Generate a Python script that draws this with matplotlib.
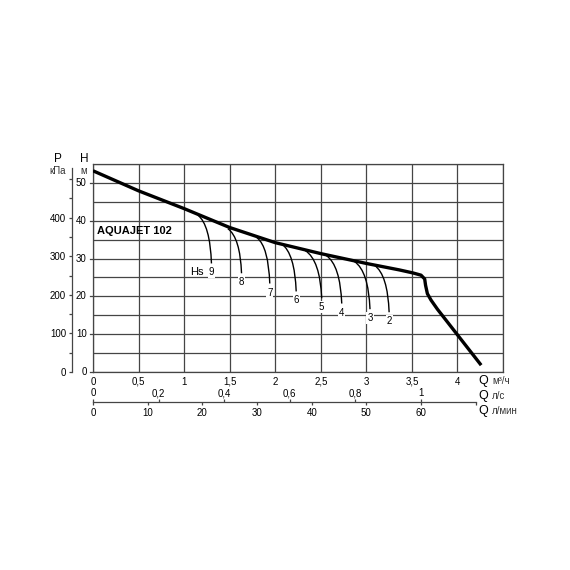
import matplotlib.pyplot as plt
from matplotlib.path import Path
from matplotlib.patches import PathPatch

plt.rcParams['font.family'] = ['Liberation Sans', 'DejaVu Sans']

# main pump curve, Q in m3/h, H in m
q_main = [0, 0.5, 1.0, 1.5, 2.0, 2.5, 3.0, 3.36, 3.51, 3.60, 3.64, 3.65, 3.67, 3.71, 3.78, 4.26]
h_main = [53.2, 47.9, 43.2, 38.2, 34.2, 31.3, 28.7, 27.0, 26.2, 25.6, 24.6, 22.9, 20.7, 19.0, 16.6, 1.8]

# suction lift (Hs) branches
hs_labels = ["9", "8", "7", "6", "5", "4", "3", "2"]
hs_q0 = [1.15, 1.48, 1.80, 2.07, 2.33, 2.56, 2.87, 3.09]
hs_h0 = [41.5, 37.9, 35.5, 33.9, 32.1, 30.8, 29.2, 28.2]
hs_q1 = [1.30, 1.63, 1.94, 2.23, 2.51, 2.73, 3.04, 3.25]
hs_h1 = [28.7, 26.1, 23.4, 21.3, 19.5, 18.1, 16.6, 15.8]

q_ticks = [0, 0.5, 1, 1.5, 2, 2.5, 3, 3.5, 4]
q_ticklabels = ["0", "0,5", "1", "1,5", "2", "2,5", "3", "3,5", "4"]
h_ticks = [0, 10, 20, 30, 40, 50]
p_ticks = [0, 50, 100, 150, 200, 250, 300, 350, 400, 450, 500]
p_ticklabels = ["0", "", "100", "", "200", "", "300", "", "400", "", ""]
ls_ticks = [0, 0.2, 0.4, 0.6, 0.8, 1]
ls_ticklabels = ["0", "0,2", "0,4", "0,6", "0,8", "1"]
lmin_ticks = [0, 10, 20, 30, 40, 50, 60, 70]
lmin_ticklabels = ["0", "10", "20", "30", "40", "50", "60", ""]

grid_c = '#454545'
fs = 7

fig = plt.figure(figsize=(5.7, 5.7), dpi=100)
ax = fig.add_axes([0.1632, 0.3474, 0.7193, 0.3649])
ax.set_xlim(0, 4.5)
ax.set_ylim(0, 55)
ax.set_xticks([0.5 * i for i in range(10)])
ax.set_yticks([5 * i for i in range(12)])
ax.grid(True, color=grid_c, lw=0.9)
ax.tick_params(length=0, labelleft=False, labelbottom=False)
for s in ax.spines.values():
    s.set_color(grid_c)
    s.set_linewidth(0.9)

# labels for H and Q (m3/h)
for h in h_ticks:
    ax.annotate(str(h), (0, h), xytext=(-4.5, 0), textcoords='offset points',
                ha='right', va='center', fontsize=fs)
    ax.plot([-0.035, 0], [h, h], color=grid_c, lw=0.9, clip_on=False)
for q, lab in zip(q_ticks, q_ticklabels):
    ax.annotate(lab, (q, 0), xytext=(0, -7), textcoords='offset points',
                ha='center', va='center', fontsize=fs)

ax.plot(q_main, h_main, color='black', lw=2.4, solid_capstyle='butt', zorder=5)

for lab, q0, h0, q1, h1 in zip(hs_labels, hs_q0, hs_h0, hs_q1, hs_h1):
    ctrl = (q1 - 0.1 * (q1 - q0), h0 - 0.2 * (h0 - h1))
    path = Path([(q0, h0), ctrl, (q1, h1)], [Path.MOVETO, Path.CURVE3, Path.CURVE3])
    ax.add_patch(PathPatch(path, fill=False, lw=1.0, edgecolor='black', zorder=4))
    ax.annotate(lab, (q1, h1), xytext=(0, -6.5), textcoords='offset points',
                ha='center', va='center', fontsize=fs, zorder=6,
                bbox=dict(fc='white', ec='none', pad=0.6))
ax.annotate("Hs", (hs_q1[0], hs_h1[0]), xytext=(-10.5, -6.5), textcoords='offset points',
            ha='center', va='center', fontsize=8, zorder=6)

ax.text(0.04, 37.2, "AQUAJET 102", fontsize=8, fontweight='bold', va='center', ha='left')

# pressure axis kPa
ax2 = ax.twinx()
ax2.set_ylim(0, 55 / 0.102)
for k in ['top', 'right', 'bottom']:
    ax2.spines[k].set_visible(False)
ax2.spines['left'].set_visible(True)
ax2.spines['left'].set_position(('outward', 15))
ax2.spines['left'].set_bounds(0, 528)
ax2.spines['left'].set_color(grid_c)
ax2.spines['left'].set_linewidth(0.9)
ax2.yaxis.tick_left()
ax2.set_yticks(p_ticks)
ax2.set_yticklabels(p_ticklabels, fontsize=fs)
ax2.tick_params(axis='y', length=2.5, width=0.9, color=grid_c, pad=2)

# flow axes l/min and l/s
axq = fig.add_axes([0.1632, 1 - 402 / 570, 0.7193, 0.0001])
axq.set_xlim(0, 75)
axq.set_ylim(0, 1)
for k in ['top', 'left', 'right']:
    axq.spines[k].set_visible(False)
axq.spines['bottom'].set_bounds(0, 70)
axq.spines['bottom'].set_color(grid_c)
axq.spines['bottom'].set_linewidth(0.9)
axq.set_yticks([])
axq.set_xticks(lmin_ticks)
axq.set_xticklabels(lmin_ticklabels, fontsize=fs)
axq.tick_params(axis='x', length=2.5, width=0.9, color=grid_c, pad=2)
axq.patch.set_visible(False)

sec = axq.secondary_xaxis('top', functions=(lambda x: x / 60, lambda x: x * 60))
sec.spines['top'].set_visible(False)
sec.set_xticks(ls_ticks)
sec.set_xticklabels(ls_ticklabels, fontsize=fs)
sec.tick_params(axis='x', length=2.5, width=0.9, color=grid_c, pad=0)

# axis titles
fig.text(58 / 570, 1 - 159 / 570, "P", fontsize=8.5, ha='center', va='center')
fig.text(58 / 570, 1 - 171 / 570, "кПа", fontsize=7, ha='center', va='center', color='#333333')
fig.text(84 / 570, 1 - 159 / 570, "H", fontsize=8.5, ha='center', va='center')
fig.text(84 / 570, 1 - 171 / 570, "м", fontsize=7, ha='center', va='center', color='#333333')
for yy, unit in zip([381, 396, 411], ["м³/ч", "л/с", "л/мин"]):
    fig.text(478 / 570, 1 - yy / 570, "Q", fontsize=9, ha='left', va='center')
    fig.text(492 / 570, 1 - yy / 570, unit, fontsize=7, ha='left', va='center', color='#333333')

fig.savefig('out.png', dpi=100, facecolor='white')
